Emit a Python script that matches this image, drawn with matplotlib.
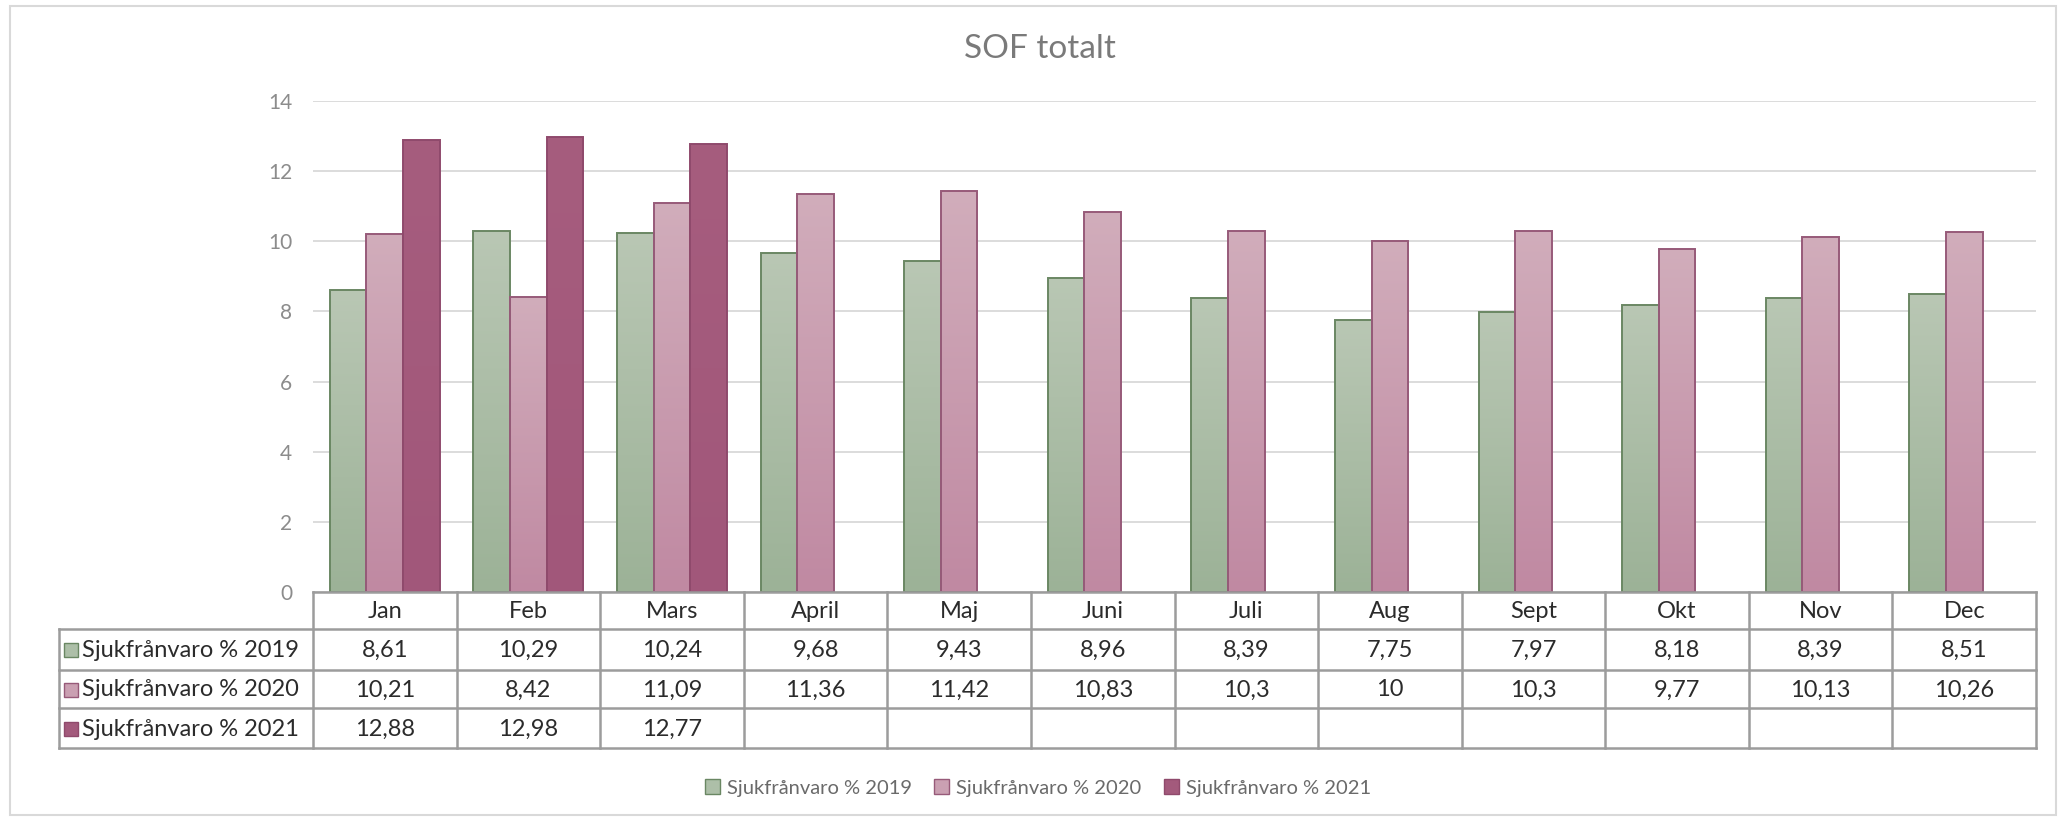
import numpy as np
import matplotlib
matplotlib.use("Agg")
import matplotlib.pyplot as plt
from matplotlib.patches import Rectangle
from matplotlib.colors import LinearSegmentedColormap

# ---------------- data ----------------
months = ["Jan", "Feb", "Mars", "April", "Maj", "Juni", "Juli", "Aug",
          "Sept", "Okt", "Nov", "Dec"]
series_names = ["Sjukfrånvaro % 2019", "Sjukfrånvaro % 2020", "Sjukfrånvaro % 2021"]
v2019 = [8.61, 10.29, 10.24, 9.68, 9.43, 8.96, 8.39, 7.75, 7.97, 8.18, 8.39, 8.51]
v2020 = [10.21, 8.42, 11.09, 11.36, 11.42, 10.83, 10.3, 10, 10.3, 9.77, 10.13, 10.26]
v2021 = [12.88, 12.98, 12.77, None, None, None, None, None, None, None, None, None]
yticks = [0, 2, 4, 6, 8, 10, 12, 14]
title = "SOF totalt"

# ---------------- style ----------------
plt.rcParams['font.family'] = ['Lato', 'DejaVu Sans']
W, H = 2060, 821
fig = plt.figure(figsize=(W / 100, H / 100), dpi=100)

top_cols = ["#b9c7b4", "#d1adbb", "#a65d7e"]
bot_cols = ["#9cb297", "#c089a2", "#a1577a"]
edge_cols = ["#6a8763", "#975a79", "#8f4a6c"]
key_cols = ["#adbfa8", "#caa0b2", "#a35a7c"]

ax_l, ax_r, ax_t, ax_b = 313, 2036, 101, 592
ax = fig.add_axes([ax_l / W, 1 - ax_b / H, (ax_r - ax_l) / W, (ax_b - ax_t) / H])
ax.set_xlim(-0.5, len(months) - 0.5)
ax.set_ylim(0, 14)
for s in ax.spines.values():
    s.set_visible(False)
ax.set_yticks(yticks)
ax.set_yticklabels([str(t) for t in yticks], color="#8c8c8c", fontsize=15)
ax.tick_params(axis='y', length=0, pad=15)
ax.set_xticks([])
ax.grid(axis='y', color="#d9d9d9", linewidth=1.3)
ax.set_axisbelow(True)

bw = 0.255
x = np.arange(len(months))
grad = np.linspace(0, 1, 256).reshape(-1, 1)
for si, vals in enumerate([v2019, v2020, v2021]):
    xs = [xi + (si - 1) * bw for xi, v in zip(x, vals) if v is not None]
    hs = [v for v in vals if v is not None]
    bars = ax.bar(xs, hs, width=bw, facecolor='none', edgecolor=edge_cols[si],
                  linewidth=1.4, zorder=3)
    cmap = LinearSegmentedColormap.from_list("g%d" % si, [bot_cols[si], top_cols[si]])
    for b in bars:
        bx, by = b.get_x(), b.get_y()
        im = ax.imshow(grad, cmap=cmap, origin='lower', aspect='auto',
                       extent=[bx, bx + b.get_width(), by, by + b.get_height()],
                       zorder=2)
        im.set_clip_path(b)
ax.set_xlim(-0.5, len(months) - 0.5)
ax.set_ylim(0, 14)

# ---------------- title ----------------
fig.text(1040 / W, 1 - 49 / H, title, ha='center', va='center',
         fontsize=24, color="#7a7a7a")

# ---------------- data table ----------------
tab = fig.add_axes([0, 0, 1, 1])
tab.set_xlim(0, W)
tab.set_ylim(H, 0)
tab.axis('off')

col_edges = [ax.transData.transform((i - 0.5, 0))[0] for i in range(len(months) + 1)]
lab_left = 59
row_edges = [592, 629, 670, 708, 748]
lc = "#9c9c9c"
lw = 1.8

tab.plot([col_edges[0], col_edges[-1]], [row_edges[0]] * 2, color=lc, lw=lw)
for yv in row_edges[1:]:
    tab.plot([lab_left, col_edges[-1]], [yv, yv], color=lc, lw=lw)
for xv in col_edges:
    tab.plot([xv, xv], [row_edges[0], row_edges[-1]], color=lc, lw=lw)
tab.plot([lab_left, lab_left], [row_edges[1], row_edges[-1]], color=lc, lw=lw)

txt_col = "#2b2b2b"
fs = 17
for i, m in enumerate(months):
    cx = (col_edges[i] + col_edges[i + 1]) / 2
    tab.text(cx, (row_edges[0] + row_edges[1]) / 2 + 1, m, ha='center', va='center',
             fontsize=fs, color=txt_col)


def fmt(v):
    return ("%g" % v).replace('.', ',')


for si, vals in enumerate([v2019, v2020, v2021]):
    cy = (row_edges[si + 1] + row_edges[si + 2]) / 2 + 1
    tab.add_patch(Rectangle((64, cy - 7), 14, 14, facecolor=key_cols[si],
                            edgecolor=edge_cols[si], lw=1.0))
    tab.text(82, cy, series_names[si], ha='left', va='center', fontsize=fs, color=txt_col)
    for i, v in enumerate(vals):
        if v is None:
            continue
        cx = (col_edges[i] + col_edges[i + 1]) / 2
        tab.text(cx, cy, fmt(v), ha='center', va='center', fontsize=fs, color=txt_col)

# ---------------- legend ----------------
handles = [Rectangle((0, 0), 1, 1, facecolor=key_cols[i], edgecolor=edge_cols[i], lw=1.0)
           for i in range(3)]
fig.legend(handles, series_names, loc='center', bbox_to_anchor=(1038 / W, 1 - 788 / H),
           ncol=3, frameon=False, fontsize=14.5, labelcolor="#6a6a6a",
           handlelength=0.75, handleheight=0.75, handletextpad=0.35, columnspacing=1.1)

# ---------------- outer border ----------------
fig.patches.append(Rectangle((10 / W, 1 - 815 / H), (2056 - 10) / W, (815 - 6) / H,
                             transform=fig.transFigure, facecolor='none',
                             edgecolor="#d9d9d9", lw=1.5))

fig.savefig("out.png", dpi=100)
